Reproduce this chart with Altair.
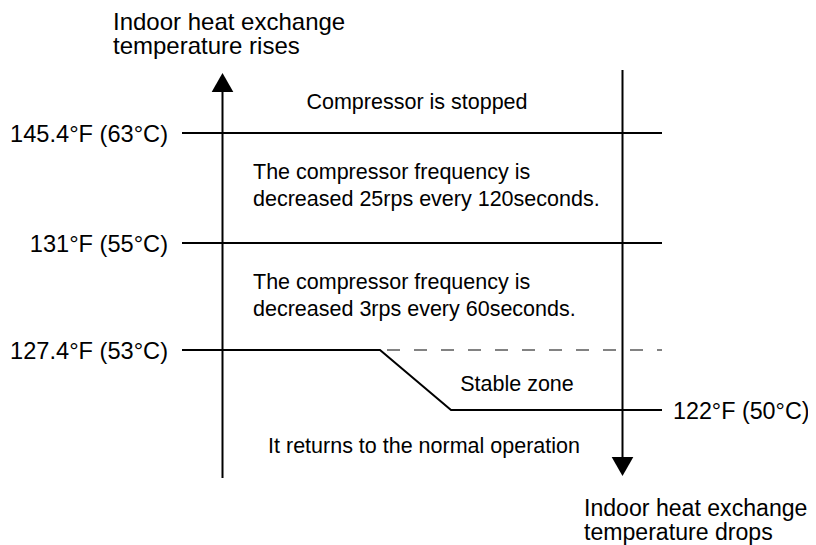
import altair as alt
import pandas as pd

FONT = "Liberation Sans, Arial, sans-serif"
FS = 21.5      # zone descriptions
FS_L = 23.6    # temperature labels and direction titles

# Threshold levels (schematic diagram positions)
threshold_labels = ["145.4°F (63°C)", "131°F (55°C)", "127.4°F (53°C)"]
threshold_y = [133, 243, 350]
line_x_start = 182
line_x_end = 662

# Stable zone polyline (53°C -> 50°C)
stable_x = [182, 380, 451, 662]
stable_y = [350, 350, 410, 410]
return_label = "122°F (50°C)"

# Vertical arrows
arrow_left_x = 222.5
arrow_right_x = 622.5

# zone descriptions
zone_texts = [
    "Compressor is stopped",
    "The compressor frequency is",
    "decreased 25rps every 120seconds.",
    "The compressor frequency is",
    "decreased 3rps every 60seconds.",
    "Stable zone",
    "It returns to the normal operation",
]
zone_x = [417, 253, 253, 253, 253, 517, 424]
zone_y = [109, 179, 206, 289, 316, 391, 453]
zone_align = ["center", "left", "left", "left", "left", "center", "center"]

# direction titles
title_texts = ["Indoor heat exchange", "temperature rises", "Indoor heat exchange", "temperature drops"]
title_x = [113, 113, 584, 584]
title_y = [29.5, 54, 516, 540]
title_size = [24, 24, 23.1, 23.1]

X = lambda f="x": alt.X(f + ":Q", scale=alt.Scale(domain=[8, 808], nice=False, zero=False), axis=None)
Y = lambda f="y": alt.Y(f + ":Q", scale=alt.Scale(domain=[8, 545], nice=False, zero=False, reverse=True), axis=None)

# horizontal threshold lines
hdf = pd.DataFrame({"y": threshold_y[:2], "x": line_x_start, "x2": line_x_end})
hlines = alt.Chart(hdf).mark_rule(color="black", strokeWidth=2).encode(
    x=X(), x2="x2:Q", y=Y()
)

# stable polyline
pdf = pd.DataFrame({"x": stable_x, "y": stable_y, "o": range(len(stable_x))})
poly = alt.Chart(pdf).mark_line(color="black", strokeWidth=2, strokeJoin="miter").encode(
    x=X(), y=Y(), order="o:O"
)

# dashed continuation of 53°C line
ddf = pd.DataFrame({"x": [387], "x2": [662], "y": [350]})
dashed = alt.Chart(ddf).mark_rule(color="#5a5a5a", strokeWidth=1.5, strokeDash=[13, 14]).encode(
    x=X(), x2="x2:Q", y=Y()
)

# vertical shafts
vdf = pd.DataFrame({"x": [arrow_left_x, arrow_right_x], "y": [88, 70], "y2": [478, 458]})
vlines = alt.Chart(vdf).mark_rule(color="black", strokeWidth=2).encode(
    x=X(), y=Y(), y2="y2:Q"
)

# arrow heads
up = alt.Chart(pd.DataFrame({"x": [arrow_left_x], "y": [82.5]})).mark_point(
    shape="triangle-up", filled=True, color="black", size=470, opacity=1
).encode(x=X(), y=Y())
down = alt.Chart(pd.DataFrame({"x": [arrow_right_x], "y": [466.5]})).mark_point(
    shape="triangle-down", filled=True, color="black", size=470, opacity=1
).encode(x=X(), y=Y())

# threshold labels left
ldf = pd.DataFrame({"t": threshold_labels, "x": 168, "y": [v + 9 for v in threshold_y]})
llabels = alt.Chart(ldf).mark_text(align="right", baseline="alphabetic", font=FONT, fontSize=FS_L, color="black").encode(
    x=X(), y=Y(), text="t:N"
)
rdf = pd.DataFrame({"t": [return_label], "x": [673], "y": [419]})
rlabel = alt.Chart(rdf).mark_text(align="left", baseline="alphabetic", font=FONT, fontSize=23.3, color="black").encode(
    x=X(), y=Y(), text="t:N"
)

# zone texts
zdf = pd.DataFrame({"t": zone_texts, "x": zone_x, "y": zone_y, "a": zone_align})
zl = []
for al in ["left", "center"]:
    zl.append(
        alt.Chart(zdf[zdf.a == al]).mark_text(align=al, baseline="alphabetic", font=FONT, fontSize=FS, color="black").encode(
            x=X(), y=Y(), text="t:N"
        )
    )

# axis direction titles
tdf = pd.DataFrame({"t": title_texts, "x": title_x, "y": title_y, "s": title_size})
titles = alt.Chart(tdf).mark_text(align="left", baseline="alphabetic", font=FONT, color="black").encode(
    x=X(), y=Y(), text="t:N", size=alt.Size("s:Q", scale=None, legend=None)
)

chart = alt.layer(hlines, poly, dashed, vlines, up, down, llabels, rlabel, *zl, titles).properties(
    width=800, height=537, padding=0, autosize="none", background="white"
).configure_view(stroke=None)

chart.save("out.html", embed_options={"renderer": "svg", "actions": False})
